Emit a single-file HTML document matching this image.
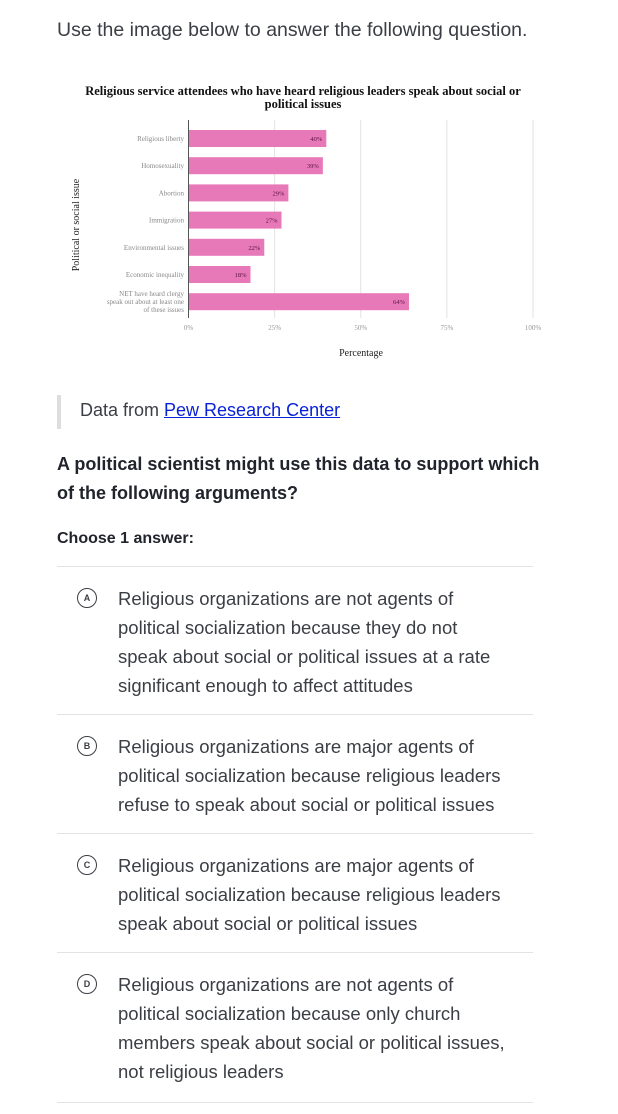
<!DOCTYPE html>
<html><head><meta charset="utf-8">
<style>
body{margin:0;width:618px;height:1114px;background:#fff;position:relative;overflow:hidden;font-family:"Liberation Sans","DejaVu Sans",sans-serif;color:#21242c}
.abs{position:absolute}
.sep{position:absolute;left:57px;width:476px;height:1px;background:#e3e3e3}
.opt{position:absolute;left:118px;width:388px;font-size:18.5px;line-height:29px;color:#3b3e44}
.circ{position:absolute;left:77px;width:18px;height:18px;border:1.5px solid #3b3e44;border-radius:50%;font-size:9px;font-weight:bold;text-align:center;line-height:18px;color:#3b3e44}
</style></head><body>
<div class="abs" style="left:57px;top:19px;font-size:19.5px;color:#3b3e44">Use the image below to answer the following question.</div>
<svg id="chart" class="abs" style="left:0;top:0" width="618" height="380"></svg>
<div class="abs" style="left:57px;top:395px;width:4px;height:34px;background:#ddd"></div>
<div class="abs" style="left:80px;top:400px;font-size:18px;color:#3b3e44">Data from <span style="text-decoration:underline;color:#0a22d6">Pew Research Center</span></div>
<div class="abs" style="left:57px;top:450px;width:490px;font-size:18px;line-height:29px;font-weight:bold;color:#21242c">A political scientist might use this data to support which of the following arguments?</div>
<div class="abs" style="left:57px;top:530px;font-size:16px;font-weight:bold">Choose 1 answer:</div>
<div class="sep" style="top:566px"></div>
<div class="circ" style="top:588px">A</div>
<div class="opt" style="top:584px">Religious organizations are not agents of political socialization because they do not speak about social or political issues at a rate significant enough to affect attitudes</div>
<div class="sep" style="top:714px"></div>
<div class="circ" style="top:736px">B</div>
<div class="opt" style="top:732px">Religious organizations are major agents of political socialization because religious leaders refuse to speak about social or political issues</div>
<div class="sep" style="top:833px"></div>
<div class="circ" style="top:855px">C</div>
<div class="opt" style="top:851px">Religious organizations are major agents of political socialization because religious leaders speak about social or political issues</div>
<div class="sep" style="top:952px"></div>
<div class="circ" style="top:974px">D</div>
<div class="opt" style="top:970px">Religious organizations are not agents of political socialization because only church members speak about social or political issues, not religious leaders</div>
<div class="sep" style="top:1102px"></div>
<script>
const categories=["Religious liberty","Homosexuality","Abortion","Immigration","Environmental issues","Economic inequality","NET have heard clergy|speak out about at least one|of these issues"];
const values=[40,39,29,27,22,18,64];
const ticks=[0,25,50,75,100];
const tickLabels=["0%","25%","50%","75%","100%"];
const NS="http://www.w3.org/2000/svg";
const svg=document.getElementById('chart');
const x0=188.5,x1=533,top0=120,bottom0=318;
const xs=v=>x0+(x1-x0)*v/100;
const band=27.2;
const ys=i=>130+i*band;
function mk(tag,attrs,txt){const e=document.createElementNS(NS,tag);for(const k in attrs)e.setAttribute(k,attrs[k]);if(txt!=null)e.textContent=txt;svg.appendChild(e);return e;}
const serif='"Liberation Serif",serif';
let t=mk('text',{x:303,y:95,'text-anchor':'middle','font-family':serif,'font-size':12.5,'font-weight':'bold',fill:'#111'},'Religious service attendees who have heard religious leaders speak about social or');

t=mk('text',{x:303,y:108,'text-anchor':'middle','font-family':serif,'font-size':12.5,'font-weight':'bold',fill:'#111'},'political issues');

ticks.forEach((v,i)=>{
  if(v>0){const g=mk('line',{x1:xs(v),x2:xs(v),y1:top0,y2:bottom0,stroke:'#e2e2e2','stroke-width':1});
  }
  const l=mk('text',{x:xs(v),y:330,'text-anchor':'middle','font-family':serif,'font-size':7,fill:'#999'},tickLabels[i]);
  
});
categories.forEach((c,i)=>{
  const y=ys(i),h=17;
  const r=mk('rect',{x:x0,y:y,width:xs(values[i])-x0,height:h,fill:'#e879b9'});
  
  const vl=mk('text',{x:xs(values[i])-4,y:y+h/2+2.5,'text-anchor':'end','font-family':serif,'font-size':6.5,fill:'#5a1040'},values[i]+'%');
  
  const parts=c.split('|');
  parts.forEach((p,j)=>{
    const cy=y+h/2+2.5+(j-(parts.length-1)/2)*8;
    const cl=mk('text',{x:184,y:cy,'text-anchor':'end','font-family':serif,'font-size':7,fill:'#888'},p);
    
  });
});
const ax=mk('line',{x1:x0,x2:x0,y1:top0,y2:bottom0,stroke:'#555','stroke-width':1});

t=mk('text',{x:361,y:356,'text-anchor':'middle','font-family':serif,'font-size':10,fill:'#222'},'Percentage');

t=mk('text',{x:0,y:0,'text-anchor':'middle','font-family':serif,'font-size':10,fill:'#222',transform:'translate(79,225) rotate(-90)'},'Political or social issue');

</script>
</body></html>
